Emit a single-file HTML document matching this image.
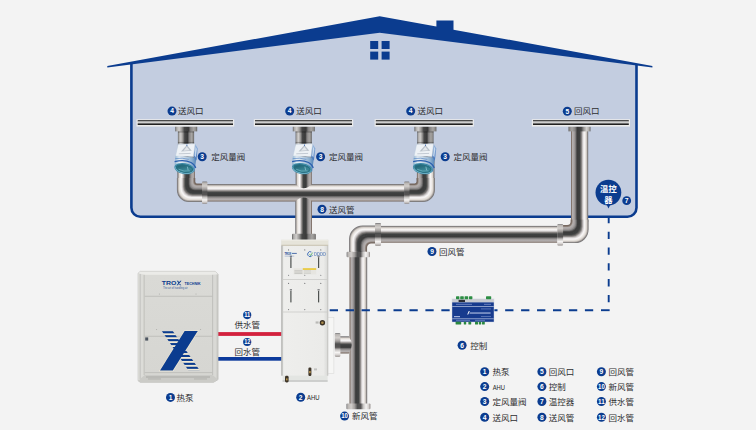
<!DOCTYPE html>
<html><head><meta charset="utf-8"><title>System diagram</title>
<style>html,body{margin:0;padding:0;background:#f3f3f3;}body{width:756px;height:430px;overflow:hidden;font-family:"Liberation Sans","Noto Sans CJK SC",sans-serif;}svg{display:block;}svg text{font-family:"Liberation Sans","Noto Sans CJK SC",sans-serif;}</style></head>
<body>
<svg width="756" height="430" viewBox="0 0 756 430">
<defs>
<linearGradient id="ph" x1="0" y1="0" x2="0" y2="1"><stop offset="0.000" stop-color="#6e6e72"/><stop offset="0.050" stop-color="#8f8a88"/><stop offset="0.110" stop-color="#dcd6d0"/><stop offset="0.240" stop-color="#fbf9f9"/><stop offset="0.320" stop-color="#cfcbcb"/><stop offset="0.400" stop-color="#7e7a78"/><stop offset="0.490" stop-color="#3f4141"/><stop offset="0.650" stop-color="#3b3b3b"/><stop offset="0.730" stop-color="#7c7a7a"/><stop offset="0.810" stop-color="#a49f9f"/><stop offset="0.910" stop-color="#b6b2b2"/><stop offset="0.960" stop-color="#8c7e76"/><stop offset="1.000" stop-color="#6c5e56"/></linearGradient>
<linearGradient id="phr" x1="0" y1="0" x2="0" y2="1"><stop offset="0.000" stop-color="#6c5e56"/><stop offset="0.040" stop-color="#8c7e76"/><stop offset="0.090" stop-color="#b6b2b2"/><stop offset="0.190" stop-color="#a49f9f"/><stop offset="0.270" stop-color="#7c7a7a"/><stop offset="0.350" stop-color="#3b3b3b"/><stop offset="0.510" stop-color="#3f4141"/><stop offset="0.600" stop-color="#7e7a78"/><stop offset="0.680" stop-color="#cfcbcb"/><stop offset="0.760" stop-color="#fbf9f9"/><stop offset="0.890" stop-color="#dcd6d0"/><stop offset="0.950" stop-color="#8f8a88"/><stop offset="1.000" stop-color="#6e6e72"/></linearGradient>
<linearGradient id="pv" x1="0" y1="0" x2="1" y2="0"><stop offset="0.000" stop-color="#6e6e72"/><stop offset="0.050" stop-color="#8f8a88"/><stop offset="0.110" stop-color="#dcd6d0"/><stop offset="0.240" stop-color="#fbf9f9"/><stop offset="0.320" stop-color="#cfcbcb"/><stop offset="0.400" stop-color="#7e7a78"/><stop offset="0.490" stop-color="#3f4141"/><stop offset="0.650" stop-color="#3b3b3b"/><stop offset="0.730" stop-color="#7c7a7a"/><stop offset="0.810" stop-color="#a49f9f"/><stop offset="0.910" stop-color="#b6b2b2"/><stop offset="0.960" stop-color="#8c7e76"/><stop offset="1.000" stop-color="#6c5e56"/></linearGradient>
<linearGradient id="pvr" x1="0" y1="0" x2="1" y2="0"><stop offset="0.000" stop-color="#6c5e56"/><stop offset="0.040" stop-color="#8c7e76"/><stop offset="0.090" stop-color="#b6b2b2"/><stop offset="0.190" stop-color="#a49f9f"/><stop offset="0.270" stop-color="#7c7a7a"/><stop offset="0.350" stop-color="#3b3b3b"/><stop offset="0.510" stop-color="#3f4141"/><stop offset="0.600" stop-color="#7e7a78"/><stop offset="0.680" stop-color="#cfcbcb"/><stop offset="0.760" stop-color="#fbf9f9"/><stop offset="0.890" stop-color="#dcd6d0"/><stop offset="0.950" stop-color="#8f8a88"/><stop offset="1.000" stop-color="#6e6e72"/></linearGradient>
<linearGradient id="fh" x1="0" y1="0" x2="0" y2="1"><stop offset="0.000" stop-color="#77777a"/><stop offset="0.060" stop-color="#b9b5b2"/><stop offset="0.200" stop-color="#d2cecb"/><stop offset="0.340" stop-color="#a39f9d"/><stop offset="0.460" stop-color="#4f4f4f"/><stop offset="0.600" stop-color="#565454"/><stop offset="0.700" stop-color="#c4c1bf"/><stop offset="0.820" stop-color="#f6f4f3"/><stop offset="0.930" stop-color="#d2cecc"/><stop offset="1.000" stop-color="#8a8380"/></linearGradient>
<linearGradient id="fv" x1="0" y1="0" x2="1" y2="0"><stop offset="0.000" stop-color="#77777a"/><stop offset="0.060" stop-color="#b9b5b2"/><stop offset="0.200" stop-color="#d2cecb"/><stop offset="0.340" stop-color="#a39f9d"/><stop offset="0.460" stop-color="#4f4f4f"/><stop offset="0.600" stop-color="#565454"/><stop offset="0.700" stop-color="#c4c1bf"/><stop offset="0.820" stop-color="#f6f4f3"/><stop offset="0.930" stop-color="#d2cecc"/><stop offset="1.000" stop-color="#8a8380"/></linearGradient>
<linearGradient id="fvr" x1="0" y1="0" x2="1" y2="0"><stop offset="0.000" stop-color="#8a8380"/><stop offset="0.070" stop-color="#d2cecc"/><stop offset="0.180" stop-color="#f6f4f3"/><stop offset="0.300" stop-color="#c4c1bf"/><stop offset="0.400" stop-color="#565454"/><stop offset="0.540" stop-color="#4f4f4f"/><stop offset="0.660" stop-color="#a39f9d"/><stop offset="0.800" stop-color="#d2cecb"/><stop offset="0.940" stop-color="#b9b5b2"/><stop offset="1.000" stop-color="#77777a"/></linearGradient>
<linearGradient id="phm" gradientUnits="userSpaceOnUse" x1="0" y1="184" x2="0" y2="201.6"><stop offset="0.000" stop-color="#6e6e72"/><stop offset="0.050" stop-color="#8f8a88"/><stop offset="0.110" stop-color="#dcd6d0"/><stop offset="0.240" stop-color="#fbf9f9"/><stop offset="0.320" stop-color="#cfcbcb"/><stop offset="0.400" stop-color="#7e7a78"/><stop offset="0.490" stop-color="#3f4141"/><stop offset="0.650" stop-color="#3b3b3b"/><stop offset="0.730" stop-color="#7c7a7a"/><stop offset="0.810" stop-color="#a49f9f"/><stop offset="0.910" stop-color="#b6b2b2"/><stop offset="0.960" stop-color="#8c7e76"/><stop offset="1.000" stop-color="#6c5e56"/></linearGradient>
<radialGradient id="el" cx="0" cy="0" r="1" gradientUnits="objectBoundingBox"><stop offset="0.000" stop-color="#6c5e56"/><stop offset="0.040" stop-color="#8c7e76"/><stop offset="0.090" stop-color="#b6b2b2"/><stop offset="0.190" stop-color="#a49f9f"/><stop offset="0.270" stop-color="#7c7a7a"/><stop offset="0.350" stop-color="#3b3b3b"/><stop offset="0.510" stop-color="#3f4141"/><stop offset="0.600" stop-color="#7e7a78"/><stop offset="0.680" stop-color="#cfcbcb"/><stop offset="0.760" stop-color="#fbf9f9"/><stop offset="0.890" stop-color="#dcd6d0"/><stop offset="0.950" stop-color="#8f8a88"/><stop offset="1.000" stop-color="#6e6e72"/></radialGradient>
<linearGradient id="nk" x1="0" y1="0" x2="1" y2="0"><stop offset="0.000" stop-color="#626262"/><stop offset="0.070" stop-color="#aeacaa"/><stop offset="0.180" stop-color="#cfcdcb"/><stop offset="0.300" stop-color="#9b9997"/><stop offset="0.420" stop-color="#474747"/><stop offset="0.600" stop-color="#393939"/><stop offset="0.700" stop-color="#858383"/><stop offset="0.840" stop-color="#a6a4a2"/><stop offset="0.940" stop-color="#8e8c8a"/><stop offset="1.000" stop-color="#5c5a58"/></linearGradient>
<linearGradient id="nkr" x1="0" y1="0" x2="1" y2="0"><stop offset="0.000" stop-color="#5c5a58"/><stop offset="0.060" stop-color="#8e8c8a"/><stop offset="0.160" stop-color="#a6a4a2"/><stop offset="0.300" stop-color="#858383"/><stop offset="0.400" stop-color="#393939"/><stop offset="0.580" stop-color="#474747"/><stop offset="0.700" stop-color="#9b9997"/><stop offset="0.820" stop-color="#cfcdcb"/><stop offset="0.930" stop-color="#aeacaa"/><stop offset="1.000" stop-color="#626262"/></linearGradient>
<linearGradient id="nks" x1="0" y1="0" x2="0" y2="1"><stop offset="0" stop-color="#000" stop-opacity="0.45"/><stop offset="0.16" stop-color="#000" stop-opacity="0"/><stop offset="0.88" stop-color="#000" stop-opacity="0"/><stop offset="1" stop-color="#000" stop-opacity="0.4"/></linearGradient>
<linearGradient id="phs" gradientUnits="userSpaceOnUse" x1="0" y1="336.2" x2="0" y2="353.4"><stop offset="0.000" stop-color="#6e6e72"/><stop offset="0.050" stop-color="#8f8a88"/><stop offset="0.110" stop-color="#dcd6d0"/><stop offset="0.240" stop-color="#fbf9f9"/><stop offset="0.320" stop-color="#cfcbcb"/><stop offset="0.400" stop-color="#7e7a78"/><stop offset="0.490" stop-color="#3f4141"/><stop offset="0.650" stop-color="#3b3b3b"/><stop offset="0.730" stop-color="#7c7a7a"/><stop offset="0.810" stop-color="#a49f9f"/><stop offset="0.910" stop-color="#b6b2b2"/><stop offset="0.960" stop-color="#8c7e76"/><stop offset="1.000" stop-color="#6c5e56"/></linearGradient>
<linearGradient id="vb" x1="0" y1="0" x2="1" y2="0"><stop offset="0" stop-color="#86aecb"/><stop offset="0.22" stop-color="#e9f0f6"/><stop offset="0.5" stop-color="#c2d4e3"/><stop offset="0.8" stop-color="#8db0d0"/><stop offset="1" stop-color="#4f82b8"/></linearGradient>
<linearGradient id="vs" x1="0" y1="0" x2="0" y2="1"><stop offset="0" stop-color="#9dbbe0"/><stop offset="1" stop-color="#3f72ba"/></linearGradient>
<linearGradient id="vi" x1="0" y1="0" x2="1" y2="1"><stop offset="0" stop-color="#1b596a"/><stop offset="0.6" stop-color="#398696"/><stop offset="1" stop-color="#266c7c"/></linearGradient>
<linearGradient id="ab" x1="0" y1="0" x2="1" y2="0"><stop offset="0" stop-color="#dcdddb"/><stop offset="0.06" stop-color="#eeeeec"/><stop offset="0.9" stop-color="#ebebe9"/><stop offset="1" stop-color="#d6d7d5"/></linearGradient>
<linearGradient id="hp" x1="0" y1="0" x2="0" y2="1"><stop offset="0" stop-color="#dadad6"/><stop offset="1" stop-color="#d6d6d2"/></linearGradient>
<clipPath id="xc"><path d="M161.8 331 L172.8 331 L199.8 370.6 L188.4 370.6 Z"/></clipPath>
</defs>
<rect width="756" height="430" fill="#f3f3f3"/>
<path d="M131.4 63.5 V207.8 A9 9 0 0 0 140.4 216.8 H627.5 A9 9 0 0 0 636.5 207.8 V64.3 L379.7 32 Z" fill="#c3cde0"/>
<path d="M131.4 63.8 V207.8 A9 9 0 0 0 140.4 216.8 H627.5 A9 9 0 0 0 636.5 207.8 V64.6" fill="none" stroke="#0b3c8f" stroke-width="2.6"/>
<path d="M107.3 65.9 L379.7 16.2 L436.4 26.6 V20.6 H453.5 V29.7 L652.4 65.9 V67.5 L379.7 32.7 L107.3 67.5 Z" fill="#0b3c8f"/>
<rect x="370.2" y="41.0" width="8" height="8" fill="#0b3c8f"/>
<rect x="370.2" y="51.6" width="8" height="8" fill="#0b3c8f"/>
<rect x="381.6" y="41.0" width="8" height="8" fill="#0b3c8f"/>
<rect x="381.6" y="51.6" width="8" height="8" fill="#0b3c8f"/>
<rect x="295.6" y="160" width="16.2" height="30" fill="url(#pv)"/>
<rect x="295.6" y="131" width="16.2" height="29" fill="url(#nk)"/>
<rect x="295.6" y="131.3" width="16.2" height="11.5" fill="url(#nks)"/>
<rect x="295.2" y="195" width="16.8" height="40" fill="url(#pv)"/>
<path d="M207 184.0 H295.4 Q303.7 192.4 311.9 184.0 H404.5 V201.6 H312.2 Q303.6 193.6 295 201.6 H207 Z" fill="url(#phm)"/>
<rect x="177.9" y="131" width="16.2" height="29" fill="url(#nk)"/>
<rect x="177.9" y="131.3" width="16.2" height="11.5" fill="url(#nks)"/>
<rect x="177.3" y="160" width="17.6" height="20" fill="url(#pv)"/>
<g fill="none"><path d="M177.54 178.00V189.98A11.38 11.38 0 0 0 188.92 201.36H202.90" stroke="#777678" stroke-width="1.27"/><path d="M178.03 178.00V189.74A11.12 11.12 0 0 0 189.16 200.87H202.90" stroke="#8a8584" stroke-width="1.27"/><path d="M178.52 178.00V189.50A10.88 10.88 0 0 0 189.40 200.38H202.90" stroke="#a8a39f" stroke-width="1.27"/><path d="M179.01 178.00V189.26A10.62 10.62 0 0 0 189.64 199.89H202.90" stroke="#ccc6c1" stroke-width="1.27"/><path d="M179.50 178.00V189.03A10.38 10.38 0 0 0 189.88 199.40H202.90" stroke="#e0dad5" stroke-width="1.27"/><path d="M179.99 178.00V188.79A10.12 10.12 0 0 0 190.11 198.91H202.90" stroke="#e6e2dd" stroke-width="1.27"/><path d="M180.48 178.00V188.55A9.88 9.88 0 0 0 190.35 198.42H202.90" stroke="#ede9e6" stroke-width="1.27"/><path d="M180.97 178.00V188.31A9.62 9.62 0 0 0 190.59 197.93H202.90" stroke="#f3f0ef" stroke-width="1.27"/><path d="M181.46 178.00V188.07A9.38 9.38 0 0 0 190.83 197.44H202.90" stroke="#faf8f8" stroke-width="1.27"/><path d="M181.94 178.00V187.83A9.12 9.12 0 0 0 191.07 196.96H202.90" stroke="#eeebeb" stroke-width="1.27"/><path d="M182.43 178.00V187.59A8.88 8.88 0 0 0 191.31 196.47H202.90" stroke="#dfdbdb" stroke-width="1.27"/><path d="M182.92 178.00V187.35A8.62 8.62 0 0 0 191.55 195.98H202.90" stroke="#cfcbcb" stroke-width="1.27"/><path d="M183.41 178.00V187.11A8.38 8.38 0 0 0 191.79 195.49H202.90" stroke="#b3afaf" stroke-width="1.27"/><path d="M183.90 178.00V186.88A8.12 8.12 0 0 0 192.03 195.00H202.90" stroke="#979392" stroke-width="1.27"/><path d="M184.39 178.00V186.64A7.88 7.88 0 0 0 192.26 194.51H202.90" stroke="#7c7876" stroke-width="1.27"/><path d="M184.88 178.00V186.40A7.62 7.62 0 0 0 192.50 194.02H202.90" stroke="#696765" stroke-width="1.27"/><path d="M185.37 178.00V186.16A7.38 7.38 0 0 0 192.74 193.53H202.90" stroke="#555554" stroke-width="1.27"/><path d="M185.86 178.00V185.92A7.12 7.12 0 0 0 192.98 193.04H202.90" stroke="#424343" stroke-width="1.27"/><path d="M186.34 178.00V185.68A6.88 6.88 0 0 0 193.22 192.56H202.90" stroke="#3e4040" stroke-width="1.27"/><path d="M186.83 178.00V185.44A6.62 6.62 0 0 0 193.46 192.07H202.90" stroke="#3e3f3f" stroke-width="1.27"/><path d="M187.32 178.00V185.20A6.38 6.38 0 0 0 193.70 191.58H202.90" stroke="#3d3e3e" stroke-width="1.27"/><path d="M187.81 178.00V184.96A6.12 6.12 0 0 0 193.94 191.09H202.90" stroke="#3c3d3d" stroke-width="1.27"/><path d="M188.30 178.00V184.72A5.88 5.88 0 0 0 194.18 190.60H202.90" stroke="#3c3c3c" stroke-width="1.27"/><path d="M188.79 178.00V184.49A5.62 5.62 0 0 0 194.41 190.11H202.90" stroke="#3d3d3d" stroke-width="1.27"/><path d="M189.28 178.00V184.25A5.38 5.38 0 0 0 194.65 189.62H202.90" stroke="#545353" stroke-width="1.27"/><path d="M189.77 178.00V184.01A5.12 5.12 0 0 0 194.89 189.13H202.90" stroke="#6a6969" stroke-width="1.27"/><path d="M190.26 178.00V183.77A4.88 4.88 0 0 0 195.13 188.64H202.90" stroke="#7f7d7d" stroke-width="1.27"/><path d="M190.74 178.00V183.53A4.62 4.62 0 0 0 195.37 188.16H202.90" stroke="#8d8a8a" stroke-width="1.27"/><path d="M191.23 178.00V183.29A4.38 4.38 0 0 0 195.61 187.67H202.90" stroke="#9b9797" stroke-width="1.27"/><path d="M191.72 178.00V183.05A4.12 4.12 0 0 0 195.85 187.18H202.90" stroke="#a6a1a1" stroke-width="1.27"/><path d="M192.21 178.00V182.81A3.88 3.88 0 0 0 196.09 186.69H202.90" stroke="#aba6a6" stroke-width="1.27"/><path d="M192.70 178.00V182.57A3.62 3.62 0 0 0 196.33 186.20H202.90" stroke="#b0abab" stroke-width="1.27"/><path d="M193.19 178.00V182.34A3.38 3.38 0 0 0 196.56 185.71H202.90" stroke="#b5b1b1" stroke-width="1.27"/><path d="M193.68 178.00V182.10A3.12 3.12 0 0 0 196.80 185.22H202.90" stroke="#a59d99" stroke-width="1.27"/><path d="M194.17 178.00V181.86A2.88 2.88 0 0 0 197.04 184.73H202.90" stroke="#8d8078" stroke-width="1.27"/><path d="M194.66 178.00V181.62A2.62 2.62 0 0 0 197.28 184.24H202.90" stroke="#776961" stroke-width="1.27"/></g>
<rect x="417.3" y="131" width="16.2" height="29" fill="url(#nk)"/>
<rect x="417.3" y="131.3" width="16.2" height="11.5" fill="url(#nks)"/>
<rect x="416.9" y="160" width="17.6" height="20" fill="url(#pvr)"/>
<g fill="none"><path d="M434.26 178.00V189.98A11.38 11.38 0 0 1 422.88 201.36H408.40" stroke="#777678" stroke-width="1.27"/><path d="M433.77 178.00V189.74A11.12 11.12 0 0 1 422.64 200.87H408.40" stroke="#8a8584" stroke-width="1.27"/><path d="M433.28 178.00V189.50A10.88 10.88 0 0 1 422.40 200.38H408.40" stroke="#a8a39f" stroke-width="1.27"/><path d="M432.79 178.00V189.26A10.62 10.62 0 0 1 422.16 199.89H408.40" stroke="#ccc6c1" stroke-width="1.27"/><path d="M432.30 178.00V189.03A10.38 10.38 0 0 1 421.93 199.40H408.40" stroke="#e0dad5" stroke-width="1.27"/><path d="M431.81 178.00V188.79A10.12 10.12 0 0 1 421.69 198.91H408.40" stroke="#e6e2dd" stroke-width="1.27"/><path d="M431.32 178.00V188.55A9.88 9.88 0 0 1 421.45 198.42H408.40" stroke="#ede9e6" stroke-width="1.27"/><path d="M430.83 178.00V188.31A9.62 9.62 0 0 1 421.21 197.93H408.40" stroke="#f3f0ef" stroke-width="1.27"/><path d="M430.34 178.00V188.07A9.38 9.38 0 0 1 420.97 197.44H408.40" stroke="#faf8f8" stroke-width="1.27"/><path d="M429.86 178.00V187.83A9.12 9.12 0 0 1 420.73 196.96H408.40" stroke="#eeebeb" stroke-width="1.27"/><path d="M429.37 178.00V187.59A8.88 8.88 0 0 1 420.49 196.47H408.40" stroke="#dfdbdb" stroke-width="1.27"/><path d="M428.88 178.00V187.35A8.62 8.62 0 0 1 420.25 195.98H408.40" stroke="#cfcbcb" stroke-width="1.27"/><path d="M428.39 178.00V187.11A8.38 8.38 0 0 1 420.01 195.49H408.40" stroke="#b3afaf" stroke-width="1.27"/><path d="M427.90 178.00V186.88A8.12 8.12 0 0 1 419.77 195.00H408.40" stroke="#979392" stroke-width="1.27"/><path d="M427.41 178.00V186.64A7.88 7.88 0 0 1 419.54 194.51H408.40" stroke="#7c7876" stroke-width="1.27"/><path d="M426.92 178.00V186.40A7.62 7.62 0 0 1 419.30 194.02H408.40" stroke="#696765" stroke-width="1.27"/><path d="M426.43 178.00V186.16A7.38 7.38 0 0 1 419.06 193.53H408.40" stroke="#555554" stroke-width="1.27"/><path d="M425.94 178.00V185.92A7.12 7.12 0 0 1 418.82 193.04H408.40" stroke="#424343" stroke-width="1.27"/><path d="M425.46 178.00V185.68A6.88 6.88 0 0 1 418.58 192.56H408.40" stroke="#3e4040" stroke-width="1.27"/><path d="M424.97 178.00V185.44A6.62 6.62 0 0 1 418.34 192.07H408.40" stroke="#3e3f3f" stroke-width="1.27"/><path d="M424.48 178.00V185.20A6.38 6.38 0 0 1 418.10 191.58H408.40" stroke="#3d3e3e" stroke-width="1.27"/><path d="M423.99 178.00V184.96A6.12 6.12 0 0 1 417.86 191.09H408.40" stroke="#3c3d3d" stroke-width="1.27"/><path d="M423.50 178.00V184.72A5.88 5.88 0 0 1 417.62 190.60H408.40" stroke="#3c3c3c" stroke-width="1.27"/><path d="M423.01 178.00V184.49A5.62 5.62 0 0 1 417.39 190.11H408.40" stroke="#3d3d3d" stroke-width="1.27"/><path d="M422.52 178.00V184.25A5.38 5.38 0 0 1 417.15 189.62H408.40" stroke="#545353" stroke-width="1.27"/><path d="M422.03 178.00V184.01A5.12 5.12 0 0 1 416.91 189.13H408.40" stroke="#6a6969" stroke-width="1.27"/><path d="M421.54 178.00V183.77A4.88 4.88 0 0 1 416.67 188.64H408.40" stroke="#7f7d7d" stroke-width="1.27"/><path d="M421.06 178.00V183.53A4.62 4.62 0 0 1 416.43 188.16H408.40" stroke="#8d8a8a" stroke-width="1.27"/><path d="M420.57 178.00V183.29A4.38 4.38 0 0 1 416.19 187.67H408.40" stroke="#9b9797" stroke-width="1.27"/><path d="M420.08 178.00V183.05A4.12 4.12 0 0 1 415.95 187.18H408.40" stroke="#a6a1a1" stroke-width="1.27"/><path d="M419.59 178.00V182.81A3.88 3.88 0 0 1 415.71 186.69H408.40" stroke="#aba6a6" stroke-width="1.27"/><path d="M419.10 178.00V182.57A3.62 3.62 0 0 1 415.48 186.20H408.40" stroke="#b0abab" stroke-width="1.27"/><path d="M418.61 178.00V182.34A3.38 3.38 0 0 1 415.24 185.71H408.40" stroke="#b5b1b1" stroke-width="1.27"/><path d="M418.12 178.00V182.10A3.12 3.12 0 0 1 415.00 185.22H408.40" stroke="#a59d99" stroke-width="1.27"/><path d="M417.63 178.00V181.86A2.88 2.88 0 0 1 414.76 184.73H408.40" stroke="#8d8078" stroke-width="1.27"/><path d="M417.14 178.00V181.62A2.62 2.62 0 0 1 414.52 184.24H408.40" stroke="#776961" stroke-width="1.27"/></g>
<rect x="202" y="181.6" width="5.4" height="22.2" rx="1" fill="url(#fh)"/>
<rect x="404.1" y="181.6" width="5.4" height="22.2" rx="1" fill="url(#fh)"/>
<rect x="292" y="233.8" width="23.8" height="6.4" rx="1" fill="url(#nk)"/>
<rect x="571" y="131" width="17.2" height="91" fill="url(#pvr)"/>
<rect x="381" y="225.9" width="176.5" height="16.8" fill="url(#ph)"/>
<g fill="none"><path d="M587.96 219.50V229.59A12.88 12.88 0 0 1 575.09 242.46H562.80" stroke="#777678" stroke-width="1.24"/><path d="M587.48 219.50V229.36A12.62 12.62 0 0 1 574.86 241.98H562.80" stroke="#8a8584" stroke-width="1.24"/><path d="M587.01 219.50V229.13A12.38 12.38 0 0 1 574.63 241.51H562.80" stroke="#a8a39f" stroke-width="1.24"/><path d="M586.53 219.50V228.90A12.12 12.12 0 0 1 574.40 241.03H562.80" stroke="#ccc6c1" stroke-width="1.24"/><path d="M586.05 219.50V228.68A11.88 11.88 0 0 1 574.18 240.55H562.80" stroke="#e0dad5" stroke-width="1.24"/><path d="M585.57 219.50V228.45A11.62 11.62 0 0 1 573.95 240.07H562.80" stroke="#e6e2dd" stroke-width="1.24"/><path d="M585.09 219.50V228.22A11.38 11.38 0 0 1 573.72 239.59H562.80" stroke="#ede9e6" stroke-width="1.24"/><path d="M584.62 219.50V227.99A11.12 11.12 0 0 1 573.49 239.12H562.80" stroke="#f3f0ef" stroke-width="1.24"/><path d="M584.14 219.50V227.76A10.88 10.88 0 0 1 573.26 238.64H562.80" stroke="#faf8f8" stroke-width="1.24"/><path d="M583.66 219.50V227.54A10.62 10.62 0 0 1 573.04 238.16H562.80" stroke="#eeebeb" stroke-width="1.24"/><path d="M583.18 219.50V227.31A10.38 10.38 0 0 1 572.81 237.68H562.80" stroke="#dfdbdb" stroke-width="1.24"/><path d="M582.71 219.50V227.08A10.12 10.12 0 0 1 572.58 237.21H562.80" stroke="#cfcbcb" stroke-width="1.24"/><path d="M582.23 219.50V226.85A9.88 9.88 0 0 1 572.35 236.73H562.80" stroke="#b3afaf" stroke-width="1.24"/><path d="M581.75 219.50V226.63A9.62 9.62 0 0 1 572.12 236.25H562.80" stroke="#979392" stroke-width="1.24"/><path d="M581.27 219.50V226.40A9.38 9.38 0 0 1 571.90 235.77H562.80" stroke="#7c7876" stroke-width="1.24"/><path d="M580.79 219.50V226.17A9.12 9.12 0 0 1 571.67 235.29H562.80" stroke="#696765" stroke-width="1.24"/><path d="M580.32 219.50V225.94A8.88 8.88 0 0 1 571.44 234.82H562.80" stroke="#555554" stroke-width="1.24"/><path d="M579.84 219.50V225.71A8.62 8.62 0 0 1 571.21 234.34H562.80" stroke="#424343" stroke-width="1.24"/><path d="M579.36 219.50V225.49A8.38 8.38 0 0 1 570.99 233.86H562.80" stroke="#3e4040" stroke-width="1.24"/><path d="M578.88 219.50V225.26A8.12 8.12 0 0 1 570.76 233.38H562.80" stroke="#3e3f3f" stroke-width="1.24"/><path d="M578.41 219.50V225.03A7.87 7.87 0 0 1 570.53 232.91H562.80" stroke="#3d3e3e" stroke-width="1.24"/><path d="M577.93 219.50V224.80A7.62 7.62 0 0 1 570.30 232.43H562.80" stroke="#3c3d3d" stroke-width="1.24"/><path d="M577.45 219.50V224.58A7.38 7.38 0 0 1 570.08 231.95H562.80" stroke="#3c3c3c" stroke-width="1.24"/><path d="M576.97 219.50V224.35A7.12 7.12 0 0 1 569.85 231.47H562.80" stroke="#3d3d3d" stroke-width="1.24"/><path d="M576.49 219.50V224.12A6.88 6.88 0 0 1 569.62 230.99H562.80" stroke="#545353" stroke-width="1.24"/><path d="M576.02 219.50V223.89A6.62 6.62 0 0 1 569.39 230.52H562.80" stroke="#6a6969" stroke-width="1.24"/><path d="M575.54 219.50V223.66A6.38 6.38 0 0 1 569.16 230.04H562.80" stroke="#7f7d7d" stroke-width="1.24"/><path d="M575.06 219.50V223.44A6.13 6.13 0 0 1 568.94 229.56H562.80" stroke="#8d8a8a" stroke-width="1.24"/><path d="M574.58 219.50V223.21A5.88 5.88 0 0 1 568.71 229.08H562.80" stroke="#9b9797" stroke-width="1.24"/><path d="M574.11 219.50V222.98A5.62 5.62 0 0 1 568.48 228.61H562.80" stroke="#a6a1a1" stroke-width="1.24"/><path d="M573.63 219.50V222.75A5.38 5.38 0 0 1 568.25 228.13H562.80" stroke="#aba6a6" stroke-width="1.24"/><path d="M573.15 219.50V222.53A5.12 5.12 0 0 1 568.03 227.65H562.80" stroke="#b0abab" stroke-width="1.24"/><path d="M572.67 219.50V222.30A4.88 4.88 0 0 1 567.80 227.17H562.80" stroke="#b5b1b1" stroke-width="1.24"/><path d="M572.19 219.50V222.07A4.62 4.62 0 0 1 567.57 226.69H562.80" stroke="#a59d99" stroke-width="1.24"/><path d="M571.72 219.50V221.84A4.38 4.38 0 0 1 567.34 226.22H562.80" stroke="#8d8078" stroke-width="1.24"/><path d="M571.24 219.50V221.61A4.13 4.13 0 0 1 567.11 225.74H562.80" stroke="#776961" stroke-width="1.24"/></g>
<rect x="557.3" y="223.9" width="5.8" height="21.6" rx="1" fill="url(#fh)"/>
<g fill="none"><path d="M349.74 253.10V239.02A12.88 12.88 0 0 1 362.62 226.14H375.20" stroke="#777678" stroke-width="1.24"/><path d="M350.22 253.10V239.26A12.65 12.65 0 0 1 362.86 226.62H375.20" stroke="#8a8584" stroke-width="1.24"/><path d="M350.69 253.10V239.50A12.41 12.41 0 0 1 363.10 227.09H375.20" stroke="#a8a39f" stroke-width="1.24"/><path d="M351.17 253.10V239.75A12.17 12.17 0 0 1 363.35 227.57H375.20" stroke="#ccc6c1" stroke-width="1.24"/><path d="M351.65 253.10V239.99A11.94 11.94 0 0 1 363.59 228.05H375.20" stroke="#e0dad5" stroke-width="1.24"/><path d="M352.13 253.10V240.23A11.70 11.70 0 0 1 363.83 228.53H375.20" stroke="#e6e2dd" stroke-width="1.24"/><path d="M352.61 253.10V240.47A11.47 11.47 0 0 1 364.07 229.01H375.20" stroke="#ede9e6" stroke-width="1.24"/><path d="M353.08 253.10V240.71A11.23 11.23 0 0 1 364.31 229.48H375.20" stroke="#f3f0ef" stroke-width="1.24"/><path d="M353.56 253.10V240.95A10.99 10.99 0 0 1 364.55 229.96H375.20" stroke="#faf8f8" stroke-width="1.24"/><path d="M354.04 253.10V241.20A10.76 10.76 0 0 1 364.80 230.44H375.20" stroke="#eeebeb" stroke-width="1.24"/><path d="M354.52 253.10V241.44A10.52 10.52 0 0 1 365.04 230.92H375.20" stroke="#dfdbdb" stroke-width="1.24"/><path d="M354.99 253.10V241.68A10.28 10.28 0 0 1 365.28 231.39H375.20" stroke="#cfcbcb" stroke-width="1.24"/><path d="M355.47 253.10V241.92A10.05 10.05 0 0 1 365.52 231.87H375.20" stroke="#b3afaf" stroke-width="1.24"/><path d="M355.95 253.10V242.16A9.81 9.81 0 0 1 365.76 232.35H375.20" stroke="#979392" stroke-width="1.24"/><path d="M356.43 253.10V242.40A9.58 9.58 0 0 1 366.00 232.83H375.20" stroke="#7c7876" stroke-width="1.24"/><path d="M356.91 253.10V242.65A9.34 9.34 0 0 1 366.25 233.31H375.20" stroke="#696765" stroke-width="1.24"/><path d="M357.38 253.10V242.89A9.10 9.10 0 0 1 366.49 233.78H375.20" stroke="#555554" stroke-width="1.24"/><path d="M357.86 253.10V243.13A8.87 8.87 0 0 1 366.73 234.26H375.20" stroke="#424343" stroke-width="1.24"/><path d="M358.34 253.10V243.37A8.63 8.63 0 0 1 366.97 234.74H375.20" stroke="#3e4040" stroke-width="1.24"/><path d="M358.82 253.10V243.61A8.40 8.40 0 0 1 367.21 235.22H375.20" stroke="#3e3f3f" stroke-width="1.24"/><path d="M359.29 253.10V243.85A8.16 8.16 0 0 1 367.45 235.69H375.20" stroke="#3d3e3e" stroke-width="1.24"/><path d="M359.77 253.10V244.10A7.92 7.92 0 0 1 367.70 236.17H375.20" stroke="#3c3d3d" stroke-width="1.24"/><path d="M360.25 253.10V244.34A7.69 7.69 0 0 1 367.94 236.65H375.20" stroke="#3c3c3c" stroke-width="1.24"/><path d="M360.73 253.10V244.58A7.45 7.45 0 0 1 368.18 237.13H375.20" stroke="#3d3d3d" stroke-width="1.24"/><path d="M361.21 253.10V244.82A7.22 7.22 0 0 1 368.42 237.61H375.20" stroke="#545353" stroke-width="1.24"/><path d="M361.68 253.10V245.06A6.98 6.98 0 0 1 368.66 238.08H375.20" stroke="#6a6969" stroke-width="1.24"/><path d="M362.16 253.10V245.30A6.74 6.74 0 0 1 368.90 238.56H375.20" stroke="#7f7d7d" stroke-width="1.24"/><path d="M362.64 253.10V245.55A6.51 6.51 0 0 1 369.15 239.04H375.20" stroke="#8d8a8a" stroke-width="1.24"/><path d="M363.12 253.10V245.79A6.27 6.27 0 0 1 369.39 239.52H375.20" stroke="#9b9797" stroke-width="1.24"/><path d="M363.59 253.10V246.03A6.03 6.03 0 0 1 369.63 239.99H375.20" stroke="#a6a1a1" stroke-width="1.24"/><path d="M364.07 253.10V246.27A5.80 5.80 0 0 1 369.87 240.47H375.20" stroke="#aba6a6" stroke-width="1.24"/><path d="M364.55 253.10V246.51A5.56 5.56 0 0 1 370.11 240.95H375.20" stroke="#b0abab" stroke-width="1.24"/><path d="M365.03 253.10V246.75A5.33 5.33 0 0 1 370.35 241.43H375.20" stroke="#b5b1b1" stroke-width="1.24"/><path d="M365.51 253.10V247.00A5.09 5.09 0 0 1 370.60 241.91H375.20" stroke="#a59d99" stroke-width="1.24"/><path d="M365.98 253.10V247.24A4.85 4.85 0 0 1 370.84 242.38H375.20" stroke="#8d8078" stroke-width="1.24"/><path d="M366.46 253.10V247.48A4.62 4.62 0 0 1 371.08 242.86H375.20" stroke="#776961" stroke-width="1.24"/></g>
<rect x="375" y="223.1" width="6" height="22.6" rx="1" fill="url(#fh)"/>
<rect x="349.5" y="251.1" width="17.2" height="2.9000000000000057" fill="url(#pv)"/>
<rect x="349.5" y="254" width="17.7" height="150" fill="url(#pvr)"/>
<rect x="346.6" y="251.7" width="23.4" height="5.6" rx="1" fill="url(#fv)"/>
<rect x="346.4" y="403.4" width="24" height="5.8" rx="1" fill="url(#fv)"/>
<path d="M339.8 336.2 H348.8 Q354.6 344.8 348.8 353.4 H339.8 Z" fill="url(#phs)"/>
<rect x="334.8" y="333" width="5.6" height="23.8" rx="1.2" fill="url(#fh)"/>
<rect x="175.2" y="126.4" width="22" height="5" fill="url(#nk)"/>
<rect x="136.5" y="119.2" width="97.69999999999999" height="7.4" fill="#ececec"/><rect x="137.7" y="120.2" width="95.29999999999998" height="1.3" fill="#222"/><rect x="137.7" y="121.5" width="95.29999999999998" height="1.9" fill="#cfcfcf"/><rect x="137.7" y="123.4" width="95.29999999999998" height="1.6" fill="#222"/>
<rect x="292.8" y="126.4" width="22" height="5" fill="url(#nk)"/>
<rect x="253.8" y="119.2" width="99.39999999999998" height="7.4" fill="#ececec"/><rect x="255.0" y="120.2" width="96.99999999999997" height="1.3" fill="#222"/><rect x="255.0" y="121.5" width="96.99999999999997" height="1.9" fill="#cfcfcf"/><rect x="255.0" y="123.4" width="96.99999999999997" height="1.6" fill="#222"/>
<rect x="414.4" y="126.4" width="22" height="5" fill="url(#nk)"/>
<rect x="374.6" y="119.2" width="99.29999999999995" height="7.4" fill="#ececec"/><rect x="375.8" y="120.2" width="96.89999999999995" height="1.3" fill="#222"/><rect x="375.8" y="121.5" width="96.89999999999995" height="1.9" fill="#cfcfcf"/><rect x="375.8" y="123.4" width="96.89999999999995" height="1.6" fill="#222"/>
<rect x="568.5" y="126.4" width="22" height="5" fill="url(#nkr)"/>
<rect x="531.8" y="119.2" width="98.20000000000005" height="7.4" fill="#ececec"/><rect x="533.0" y="120.2" width="95.80000000000004" height="1.3" fill="#222"/><rect x="533.0" y="121.5" width="95.80000000000004" height="1.9" fill="#cfcfcf"/><rect x="533.0" y="123.4" width="95.80000000000004" height="1.6" fill="#222"/>
<g transform="translate(184.4 0)"><path d="M-8.9 155 L-10 168 Q0 176 10.3 171.4 L11.9 158 Z" fill="url(#vb)"/><path d="M10.7 143.8 L13.4 148.4 L12 160.6 L9 156.6 Z" fill="url(#vs)"/><path d="M11.2 146.6 L12.4 149 L11.4 157.6 L10.2 155.6 Z" fill="#dbe8f5" opacity="0.8"/><path d="M-6.3 144.2 L10.7 143.8 L9.1 156.6 L-8.9 156.1 Z" fill="#eef2f6" stroke="#b9c8da" stroke-width="0.5"/><path d="M2.5 145 L-3.4 151.6 L7.4 150.8 Z" fill="#b9c1ca"/><path d="M2.4 146.8 L-0.9 150.7 L5.2 150.3 Z" fill="#e4e8ec"/><path d="M2.1 144.5 L2.9 144.5 L2.9 146 L2.1 146 Z" fill="#3a66b0"/><path d="M-5.6 153.8 L6.2 153.4" stroke="#b0b9c4" stroke-width="0.7" fill="none"/><path d="M-9.2 158.6 Q-2 157.4 4.4 159.4" fill="none" stroke="#6a93cc" stroke-width="0.8"/><path d="M-9.8 161.6 Q0 159.4 6.6 162.4 Q10.6 164.6 11.4 168" fill="none" stroke="#2b5fae" stroke-width="1.1"/><g transform="rotate(10 0 168.6)"><ellipse cx="0" cy="168.6" rx="10.1" ry="5.5" fill="#3a89a8"/><ellipse cx="0" cy="168.8" rx="9.3" ry="4.7" fill="#7bb8cc"/><ellipse cx="0" cy="168.4" rx="8.9" ry="4.3" fill="#256f83"/><ellipse cx="0.3" cy="168.9" rx="7.6" ry="3.3" fill="url(#vi)"/><path d="M-5.6 170.2 Q0 172.2 6 169.8" fill="none" stroke="#6fb4c4" stroke-width="0.7"/><path d="M2.6 166.2 L4 169.6" fill="none" stroke="#9fd0dc" stroke-width="0.6"/></g></g>
<g transform="translate(301.9 0)"><path d="M-8.9 155 L-10 168 Q0 176 10.3 171.4 L11.9 158 Z" fill="url(#vb)"/><path d="M10.7 143.8 L13.4 148.4 L12 160.6 L9 156.6 Z" fill="url(#vs)"/><path d="M11.2 146.6 L12.4 149 L11.4 157.6 L10.2 155.6 Z" fill="#dbe8f5" opacity="0.8"/><path d="M-6.3 144.2 L10.7 143.8 L9.1 156.6 L-8.9 156.1 Z" fill="#eef2f6" stroke="#b9c8da" stroke-width="0.5"/><path d="M2.5 145 L-3.4 151.6 L7.4 150.8 Z" fill="#b9c1ca"/><path d="M2.4 146.8 L-0.9 150.7 L5.2 150.3 Z" fill="#e4e8ec"/><path d="M2.1 144.5 L2.9 144.5 L2.9 146 L2.1 146 Z" fill="#3a66b0"/><path d="M-5.6 153.8 L6.2 153.4" stroke="#b0b9c4" stroke-width="0.7" fill="none"/><path d="M-9.2 158.6 Q-2 157.4 4.4 159.4" fill="none" stroke="#6a93cc" stroke-width="0.8"/><path d="M-9.8 161.6 Q0 159.4 6.6 162.4 Q10.6 164.6 11.4 168" fill="none" stroke="#2b5fae" stroke-width="1.1"/><g transform="rotate(10 0 168.6)"><ellipse cx="0" cy="168.6" rx="10.1" ry="5.5" fill="#3a89a8"/><ellipse cx="0" cy="168.8" rx="9.3" ry="4.7" fill="#7bb8cc"/><ellipse cx="0" cy="168.4" rx="8.9" ry="4.3" fill="#256f83"/><ellipse cx="0.3" cy="168.9" rx="7.6" ry="3.3" fill="url(#vi)"/><path d="M-5.6 170.2 Q0 172.2 6 169.8" fill="none" stroke="#6fb4c4" stroke-width="0.7"/><path d="M2.6 166.2 L4 169.6" fill="none" stroke="#9fd0dc" stroke-width="0.6"/></g></g>
<g transform="translate(422.9 0)"><path d="M-8.9 155 L-10 168 Q0 176 10.3 171.4 L11.9 158 Z" fill="url(#vb)"/><path d="M10.7 143.8 L13.4 148.4 L12 160.6 L9 156.6 Z" fill="url(#vs)"/><path d="M11.2 146.6 L12.4 149 L11.4 157.6 L10.2 155.6 Z" fill="#dbe8f5" opacity="0.8"/><path d="M-6.3 144.2 L10.7 143.8 L9.1 156.6 L-8.9 156.1 Z" fill="#eef2f6" stroke="#b9c8da" stroke-width="0.5"/><path d="M2.5 145 L-3.4 151.6 L7.4 150.8 Z" fill="#b9c1ca"/><path d="M2.4 146.8 L-0.9 150.7 L5.2 150.3 Z" fill="#e4e8ec"/><path d="M2.1 144.5 L2.9 144.5 L2.9 146 L2.1 146 Z" fill="#3a66b0"/><path d="M-5.6 153.8 L6.2 153.4" stroke="#b0b9c4" stroke-width="0.7" fill="none"/><path d="M-9.2 158.6 Q-2 157.4 4.4 159.4" fill="none" stroke="#6a93cc" stroke-width="0.8"/><path d="M-9.8 161.6 Q0 159.4 6.6 162.4 Q10.6 164.6 11.4 168" fill="none" stroke="#2b5fae" stroke-width="1.1"/><g transform="rotate(10 0 168.6)"><ellipse cx="0" cy="168.6" rx="10.1" ry="5.5" fill="#3a89a8"/><ellipse cx="0" cy="168.8" rx="9.3" ry="4.7" fill="#7bb8cc"/><ellipse cx="0" cy="168.4" rx="8.9" ry="4.3" fill="#256f83"/><ellipse cx="0.3" cy="168.9" rx="7.6" ry="3.3" fill="url(#vi)"/><path d="M-5.6 170.2 Q0 172.2 6 169.8" fill="none" stroke="#6fb4c4" stroke-width="0.7"/><path d="M2.6 166.2 L4 169.6" fill="none" stroke="#9fd0dc" stroke-width="0.6"/></g></g>
<rect x="218" y="332.1" width="64" height="3.8" fill="#d3213d"/>
<rect x="218" y="357" width="64" height="3.7" fill="#0c3a9c"/>
<rect x="327" y="317.6" width="6.9" height="56" fill="#f6f6f5" stroke="#d6d6d4" stroke-width="0.5"/><rect x="282.6" y="374.5" width="45" height="7.2" fill="#e3e5e2"/><rect x="282.6" y="380.2" width="45" height="1.6" fill="#c8c9c7"/><rect x="281.4" y="239.8" width="46.8" height="135.8" fill="url(#ab)"/><rect x="281.4" y="239.8" width="46.8" height="5.4" fill="#e6e4da"/><rect x="281.4" y="239.8" width="46.8" height="0.8" fill="#f0efe8"/><rect x="281.4" y="244.8" width="46.8" height="0.9" fill="#c4bda8"/><rect x="281.4" y="245.7" width="1.1" height="130" fill="#a9a9a6"/><rect x="327.3" y="245.7" width="0.9" height="130" fill="#c4c4c1"/><rect x="282.4" y="279.2" width="44.9" height="0.8" fill="#cbcbc8"/><rect x="282.4" y="311.6" width="44.9" height="0.8" fill="#cbcbc8"/><rect x="290.3" y="257.2" width="1.2" height="10.8" fill="#4e5250"/><rect x="290.3" y="290.8" width="1.2" height="11.6" fill="#4e5250"/><rect x="289.8" y="255.6" width="2.2" height="1.5" fill="#8a8b8e"/><rect x="289.8" y="289" width="2.2" height="1.5" fill="#8a8b8e"/><rect x="318" y="257.2" width="1.2" height="10.8" fill="#4e5250"/><rect x="318" y="290.8" width="1.2" height="11.6" fill="#4e5250"/><rect x="317.5" y="255.6" width="2.2" height="1.5" fill="#8a8b8e"/><rect x="317.5" y="289" width="2.2" height="1.5" fill="#8a8b8e"/><rect x="293.6" y="268.2" width="22.6" height="6.2" fill="#e6e5e0"/><rect x="302.8" y="268.2" width="13.4" height="1.7" fill="#e9c93a"/><rect x="294.4" y="270.6" width="8" height="0.5" fill="#adadaa"/><rect x="304" y="270.6" width="7" height="0.5" fill="#c2c2be"/><rect x="294.4" y="271.8" width="8" height="0.5" fill="#adadaa"/><rect x="304" y="271.8" width="7" height="0.5" fill="#c2c2be"/><rect x="294.4" y="273.0" width="8" height="0.5" fill="#adadaa"/><rect x="304" y="273.0" width="7" height="0.5" fill="#c2c2be"/><circle cx="288.6" cy="249.9" r="0.55" fill="#6d6e72"/><circle cx="304.8" cy="249.9" r="0.55" fill="#6d6e72"/><circle cx="320.8" cy="249.9" r="0.55" fill="#6d6e72"/><circle cx="288.6" cy="275.3" r="0.55" fill="#6d6e72"/><circle cx="304.8" cy="275.3" r="0.55" fill="#6d6e72"/><circle cx="320.8" cy="275.3" r="0.55" fill="#6d6e72"/><circle cx="288.6" cy="283.4" r="0.55" fill="#6d6e72"/><circle cx="304.8" cy="283.4" r="0.55" fill="#6d6e72"/><circle cx="320.8" cy="283.4" r="0.55" fill="#6d6e72"/><circle cx="288.6" cy="309.6" r="0.55" fill="#6d6e72"/><circle cx="304.8" cy="309.6" r="0.55" fill="#6d6e72"/><circle cx="320.8" cy="309.6" r="0.55" fill="#6d6e72"/><text x="284.4" y="254.6" font-size="4.2" font-weight="700" fill="#0b3c8f" textLength="6.8" lengthAdjust="spacingAndGlyphs">TROX</text><rect x="291.8" y="252.9" width="5" height="1" fill="#0b3c8f" opacity="0.7"/><rect x="284.6" y="255.8" width="9.6" height="0.55" fill="#0b3c8f" opacity="0.45"/><path d="M311.4 252 A2.5 2.5 0 1 0 312.4 255.2" fill="none" stroke="#2a5fb4" stroke-width="0.85"/><path d="M309.6 254.2 L310.6 255.6 L312.6 252.6" fill="none" stroke="#46a85e" stroke-width="0.8"/><rect x="314.4" y="252.8" width="2.3" height="2.9" fill="none" stroke="#3c68b0" stroke-width="0.45"/><rect x="317.3" y="252.8" width="2.3" height="2.9" fill="none" stroke="#3c68b0" stroke-width="0.45"/><rect x="320.2" y="252.8" width="2.3" height="2.9" fill="none" stroke="#3c68b0" stroke-width="0.45"/><rect x="323.1" y="252.8" width="2.3" height="2.9" fill="none" stroke="#3c68b0" stroke-width="0.45"/><rect x="315.6" y="321.4" width="3" height="2.2" fill="#b9b9b6"/><circle cx="322.4" cy="322.8" r="2.7" fill="#3b3226"/><circle cx="322.4" cy="322.8" r="1.3" fill="#a98a4a"/><rect x="308.4" y="367.6" width="3" height="8.4" rx="1.2" fill="#3d3428"/><rect x="309.1" y="371" width="1.6" height="2.2" fill="#b3904a"/><rect x="314" y="368.4" width="3" height="2" fill="#c2c2c0"/><rect x="285" y="375.8" width="3.6" height="6.6" rx="1.4" fill="#3d3428"/><rect x="286" y="378.4" width="1.6" height="2" fill="#b3904a"/>
<path d="M138.2 273.2 L140.4 271.4 H215.2 L218 274.4 V379.6 L213.6 382.2 H140.2 L138.2 380.8 Z" fill="#e2e2df" stroke="#b9b9b5" stroke-width="0.8"/><path d="M138.2 273.2 L140.4 271.4 H215.2 L218 274.4 L212.6 275 H144.6 Z" fill="#ebebe8"/><path d="M212.4 274.8 L218 274.4 V379.6 L212.4 376 Z" fill="#d9d9d5"/><path d="M216.6 274.6 L218 274.4 V379.6 L216.6 378.8 Z" fill="#c6c6c2"/><path d="M138.2 273.2 L144.6 275 V375 L138.2 380.8 Z" fill="#dcdcd8"/><rect x="139.6" y="274" width="1.2" height="105" fill="#c6c6c2"/><path d="M140.2 382.2 H213.6 L218 379.6 L212.4 375 H144.6 L138.2 380.8 Z" fill="#cbcbc7"/><rect x="146" y="376.2" width="64" height="1.6" fill="#b6b6b2"/><rect x="148" y="377.8" width="13" height="2" fill="#bdbdb9"/><rect x="194" y="377.8" width="13" height="2" fill="#bdbdb9"/><rect x="144.6" y="274.8" width="67.8" height="100.2" fill="url(#hp)"/><rect x="144.6" y="295.8" width="67.8" height="0.9" fill="#bcbcb8"/><rect x="144.6" y="335.8" width="67.8" height="0.9" fill="#bebeba"/><rect x="144.6" y="372.2" width="67.8" height="0.9" fill="#bebeba"/><rect x="143.6" y="274.8" width="1.1" height="100.2" fill="#c0c0bc"/><rect x="212.2" y="274.8" width="0.9" height="100.2" fill="#bcbcb8"/><rect x="145.2" y="337.4" width="3" height="3.2" fill="#4d5560"/><circle cx="159.4" cy="294" r="0.5" fill="#a8a8a4"/><circle cx="196" cy="294" r="0.5" fill="#a8a8a4"/><circle cx="156.6" cy="329.4" r="0.5" fill="#a8a8a4"/><circle cx="200.6" cy="329.4" r="0.5" fill="#a8a8a4"/><path d="M184.6 331 H197.8 L172.8 370.6 H160 Z" fill="#f3ecd6" stroke="#f3ecd6" stroke-width="1.2"/><g clip-path="url(#xc)"><rect x="158" y="330" width="44" height="42" fill="#f1ead6"/><rect x="158" y="331.20" width="44" height="2.1" fill="#0b3c8f"/><rect x="158" y="335.15" width="44" height="2.1" fill="#0b3c8f"/><rect x="158" y="339.10" width="44" height="2.1" fill="#0b3c8f"/><rect x="158" y="343.05" width="44" height="2.1" fill="#0b3c8f"/><rect x="158" y="347.00" width="44" height="2.1" fill="#0b3c8f"/><rect x="158" y="350.95" width="44" height="2.1" fill="#0b3c8f"/><rect x="158" y="354.90" width="44" height="2.1" fill="#0b3c8f"/><rect x="158" y="358.85" width="44" height="2.1" fill="#0b3c8f"/><rect x="158" y="362.80" width="44" height="2.1" fill="#0b3c8f"/><rect x="158" y="366.75" width="44" height="2.1" fill="#0b3c8f"/><rect x="158" y="370.70" width="44" height="2.1" fill="#0b3c8f"/></g><path d="M184.6 331 H197.8 L172.8 370.6 H160 Z" fill="#0b3c8f"/><text x="161.8" y="285.3" font-size="6.2" font-weight="700" fill="#0b3c8f" textLength="14.6" lengthAdjust="spacingAndGlyphs">TRO</text><path d="M176.6 285.3 L180.3 280.8 H181.5 L177.8 285.3 Z" fill="#0b3c8f"/><path d="M176.8 280.8 H178.1 L179.3 282.4 L178.6 283.2 Z" fill="#0b3c8f"/><path d="M179.8 283.7 L181.3 285.3 H180 L179.2 284.4 Z" fill="#0b3c8f"/><text x="184.6" y="285.2" font-size="3.5" font-weight="700" fill="#0b3c8f" textLength="16" lengthAdjust="spacingAndGlyphs">TECHNIK</text><text x="163" y="289.4" font-size="2.6" fill="#0b3c8f" textLength="24.6" lengthAdjust="spacingAndGlyphs" opacity="0.8">The art of handling air</text>
<path d="M608.7 302.2 V214" fill="none" stroke="#0b3c8f" stroke-width="1.9" stroke-dasharray="7.3 8.5"/>
<path d="M609.65 310.2 H601" fill="none" stroke="#0b3c8f" stroke-width="1.9"/>
<path d="M593.2 310.2 H329.5" fill="none" stroke="#0b3c8f" stroke-width="1.9" stroke-dasharray="8.3 7.65"/>
<rect x="451.6" y="298.4" width="42.8" height="24" fill="#dfe3ea"/><rect x="452.2" y="299" width="41.6" height="3.6" fill="#c9ccd2"/><rect x="458.6" y="299.8" width="6.4" height="2.2" fill="#2a2c33"/><rect x="452.2" y="302.4" width="41.6" height="19.4" fill="#173b8e"/><rect x="452.2" y="306.2" width="41.6" height="0.8" fill="#b8c4e0" opacity="0.9"/><rect x="452.2" y="318.4" width="41.6" height="0.8" fill="#b8c4e0" opacity="0.9"/><rect x="456" y="303.8" width="16" height="1.2" fill="#8fa3d6" opacity="0.55"/><rect x="484" y="303.8" width="7" height="1.2" fill="#8fa3d6" opacity="0.55"/><rect x="469.6" y="312.2" width="21" height="1.7" fill="#c5d0ec" opacity="0.6"/><path d="M467.2 314.4 L468.8 311 L469.8 311 L468.2 314.4 Z" fill="#fff"/><rect x="481" y="308.4" width="10" height="1" fill="#8fa3d6" opacity="0.5"/><rect x="481" y="316" width="10" height="1" fill="#8fa3d6" opacity="0.5"/><rect x="454" y="316" width="6" height="1.2" fill="#c5d0ec" opacity="0.8"/><rect x="456" y="319.8" width="14" height="1.2" fill="#8fa3d6" opacity="0.5"/><rect x="475" y="319.8" width="10" height="1.2" fill="#8fa3d6" opacity="0.5"/><rect x="456" y="296.2" width="3.4" height="3" rx="0.6" fill="#2c8d43"/><rect x="460.2" y="296.2" width="3.6" height="3" rx="0.6" fill="#2c8d43"/><rect x="464.6" y="296.2" width="3.6" height="3" rx="0.6" fill="#2c8d43"/><rect x="469" y="296.2" width="3.4" height="3" rx="0.6" fill="#2c8d43"/><rect x="486" y="296.2" width="5.2" height="3" rx="0.6" fill="#2c8d43"/><rect x="455.6" y="321.8" width="5.6" height="2.8" rx="0.6" fill="#2a8840"/><rect x="463.8" y="321.8" width="2.4" height="2.8" rx="0.6" fill="#2a8840"/><rect x="468.4" y="321.8" width="2.8" height="2.8" rx="0.6" fill="#2a8840"/><rect x="475" y="321.8" width="3" height="2.8" rx="0.6" fill="#2a8840"/><rect x="478.8" y="321.8" width="2.4" height="2.8" rx="0.6" fill="#2a8840"/><rect x="482" y="321.8" width="2.8" height="2.8" rx="0.6" fill="#2a8840"/>
<circle cx="608.4" cy="192.6" r="12.9" fill="#0b3c8f"/>
<path d="M606.6 204.6 L608.5 208.6 L610.4 204.6 Z" fill="#0b3c8f"/>
<text x="600.10" y="192.45" font-size="8.3" font-weight="700" fill="#fff">温控</text>
<text x="604.30" y="202.75" font-size="8.3" font-weight="700" fill="#fff">器</text>
<circle cx="626.7" cy="200.7" r="4.4" fill="#0b3c8f"/><text x="626.7" y="203.08" font-size="6.7" font-weight="700" fill="#fff" text-anchor="middle">7</text>
<circle cx="172" cy="111.1" r="4.5" fill="#0b3c8f"/><text x="172" y="113.48" font-size="6.7" font-weight="700" fill="#fff" text-anchor="middle">4</text><text x="178.00" y="114.33" font-size="8.5" fill="#2e2e30">送风口</text>
<circle cx="289.7" cy="111.1" r="4.5" fill="#0b3c8f"/><text x="289.7" y="113.48" font-size="6.7" font-weight="700" fill="#fff" text-anchor="middle">4</text><text x="296.20" y="114.33" font-size="8.5" fill="#2e2e30">送风口</text>
<circle cx="410.7" cy="111.1" r="4.5" fill="#0b3c8f"/><text x="410.7" y="113.48" font-size="6.7" font-weight="700" fill="#fff" text-anchor="middle">4</text><text x="417.60" y="114.33" font-size="8.5" fill="#2e2e30">送风口</text>
<circle cx="567.3" cy="111.2" r="4.5" fill="#0b3c8f"/><text x="567.3" y="113.58" font-size="6.7" font-weight="700" fill="#fff" text-anchor="middle">5</text><text x="573.90" y="114.43" font-size="8.5" fill="#2e2e30">回风口</text>
<circle cx="202.2" cy="156.7" r="4.5" fill="#0b3c8f"/><text x="202.2" y="159.08" font-size="6.7" font-weight="700" fill="#fff" text-anchor="middle">3</text><text x="211.20" y="159.93" font-size="8.5" fill="#2e2e30">定风量阀</text>
<circle cx="320.6" cy="156.7" r="4.5" fill="#0b3c8f"/><text x="320.6" y="159.08" font-size="6.7" font-weight="700" fill="#fff" text-anchor="middle">3</text><text x="329.00" y="159.93" font-size="8.5" fill="#2e2e30">定风量阀</text>
<circle cx="445.2" cy="156.8" r="4.5" fill="#0b3c8f"/><text x="445.2" y="159.18" font-size="6.7" font-weight="700" fill="#fff" text-anchor="middle">3</text><text x="453.60" y="160.03" font-size="8.5" fill="#2e2e30">定风量阀</text>
<circle cx="322" cy="209.3" r="4.5" fill="#0b3c8f"/><text x="322" y="211.68" font-size="6.7" font-weight="700" fill="#fff" text-anchor="middle">8</text><text x="329.00" y="212.53" font-size="8.5" fill="#2e2e30">送风管</text>
<circle cx="432" cy="251.5" r="4.5" fill="#0b3c8f"/><text x="432" y="253.88" font-size="6.7" font-weight="700" fill="#fff" text-anchor="middle">9</text><text x="438.90" y="254.73" font-size="8.5" fill="#2e2e30">回风管</text>
<circle cx="462.1" cy="345.3" r="4.5" fill="#0b3c8f"/><text x="462.1" y="347.68" font-size="6.7" font-weight="700" fill="#fff" text-anchor="middle">6</text><text x="470.30" y="348.53" font-size="8.5" fill="#2e2e30">控制</text>
<circle cx="344.6" cy="416.1" r="4.5" fill="#0b3c8f"/><text x="344.6" y="418.37" font-size="6.4" font-weight="700" fill="#fff" text-anchor="middle" textLength="6.75" lengthAdjust="spacingAndGlyphs">10</text><text x="352.10" y="419.33" font-size="8.5" fill="#2e2e30">新风管</text>
<circle cx="170.5" cy="397.4" r="4.5" fill="#0b3c8f"/><text x="170.5" y="399.78" font-size="6.7" font-weight="700" fill="#fff" text-anchor="middle">1</text><text x="176.60" y="400.63" font-size="8.5" fill="#2e2e30">热泵</text>
<circle cx="300.7" cy="397.2" r="4.5" fill="#0b3c8f"/><text x="300.7" y="399.58" font-size="6.7" font-weight="700" fill="#fff" text-anchor="middle">2</text>
<text x="307.0" y="400.1" font-size="7.8" fill="#262626" textLength="12.5" lengthAdjust="spacingAndGlyphs">AHU</text>
<circle cx="247.2" cy="315.1" r="4.1" fill="#0b3c8f"/><text x="247.2" y="317.37" font-size="6.4" font-weight="700" fill="#fff" text-anchor="middle" textLength="6.15" lengthAdjust="spacingAndGlyphs">11</text>
<text x="234.50" y="328.43" font-size="8.5" fill="#2e2e30">供水管</text>
<circle cx="247.2" cy="342" r="4.1" fill="#0b3c8f"/><text x="247.2" y="344.27" font-size="6.4" font-weight="700" fill="#fff" text-anchor="middle" textLength="6.15" lengthAdjust="spacingAndGlyphs">12</text>
<text x="234.50" y="354.53" font-size="8.5" fill="#2e2e30">回水管</text>
<circle cx="484.7" cy="371.8" r="4.5" fill="#0b3c8f"/><text x="484.7" y="374.18" font-size="6.7" font-weight="700" fill="#fff" text-anchor="middle">1</text>
<text x="492.60" y="375.03" font-size="8.5" fill="#2e2e30">热泵</text>
<circle cx="484.7" cy="386.6" r="4.5" fill="#0b3c8f"/><text x="484.7" y="388.98" font-size="6.7" font-weight="700" fill="#fff" text-anchor="middle">2</text>
<text x="492.7" y="389.6" font-size="7.8" fill="#262626" textLength="12.3" lengthAdjust="spacingAndGlyphs">AHU</text>
<circle cx="484.7" cy="401.5" r="4.5" fill="#0b3c8f"/><text x="484.7" y="403.88" font-size="6.7" font-weight="700" fill="#fff" text-anchor="middle">3</text>
<text x="492.60" y="404.73" font-size="8.5" fill="#2e2e30">定风量阀</text>
<circle cx="484.7" cy="417.3" r="4.5" fill="#0b3c8f"/><text x="484.7" y="419.68" font-size="6.7" font-weight="700" fill="#fff" text-anchor="middle">4</text>
<text x="492.60" y="420.53" font-size="8.5" fill="#2e2e30">送风口</text>
<circle cx="541.9" cy="371.8" r="4.5" fill="#0b3c8f"/><text x="541.9" y="374.18" font-size="6.7" font-weight="700" fill="#fff" text-anchor="middle">5</text>
<text x="548.80" y="375.03" font-size="8.5" fill="#2e2e30">回风口</text>
<circle cx="541.9" cy="386.6" r="4.5" fill="#0b3c8f"/><text x="541.9" y="388.98" font-size="6.7" font-weight="700" fill="#fff" text-anchor="middle">6</text>
<text x="548.80" y="389.83" font-size="8.5" fill="#2e2e30">控制</text>
<circle cx="541.9" cy="401.5" r="4.5" fill="#0b3c8f"/><text x="541.9" y="403.88" font-size="6.7" font-weight="700" fill="#fff" text-anchor="middle">7</text>
<text x="548.80" y="404.73" font-size="8.5" fill="#2e2e30">温控器</text>
<circle cx="541.9" cy="417.3" r="4.5" fill="#0b3c8f"/><text x="541.9" y="419.68" font-size="6.7" font-weight="700" fill="#fff" text-anchor="middle">8</text>
<text x="548.80" y="420.53" font-size="8.5" fill="#2e2e30">送风管</text>
<circle cx="601.4" cy="371.8" r="4.5" fill="#0b3c8f"/><text x="601.4" y="374.18" font-size="6.7" font-weight="700" fill="#fff" text-anchor="middle">9</text>
<text x="608.50" y="375.03" font-size="8.5" fill="#2e2e30">回风管</text>
<circle cx="601.4" cy="386.6" r="4.5" fill="#0b3c8f"/><text x="601.4" y="388.87" font-size="6.4" font-weight="700" fill="#fff" text-anchor="middle" textLength="6.75" lengthAdjust="spacingAndGlyphs">10</text>
<text x="608.50" y="389.83" font-size="8.5" fill="#2e2e30">新风管</text>
<circle cx="601.4" cy="401.5" r="4.5" fill="#0b3c8f"/><text x="601.4" y="403.77" font-size="6.4" font-weight="700" fill="#fff" text-anchor="middle" textLength="6.75" lengthAdjust="spacingAndGlyphs">11</text>
<text x="608.50" y="404.73" font-size="8.5" fill="#2e2e30">供水管</text>
<circle cx="601.4" cy="417.3" r="4.5" fill="#0b3c8f"/><text x="601.4" y="419.57" font-size="6.4" font-weight="700" fill="#fff" text-anchor="middle" textLength="6.75" lengthAdjust="spacingAndGlyphs">12</text>
<text x="608.50" y="420.53" font-size="8.5" fill="#2e2e30">回水管</text>
</svg>
</body></html>
